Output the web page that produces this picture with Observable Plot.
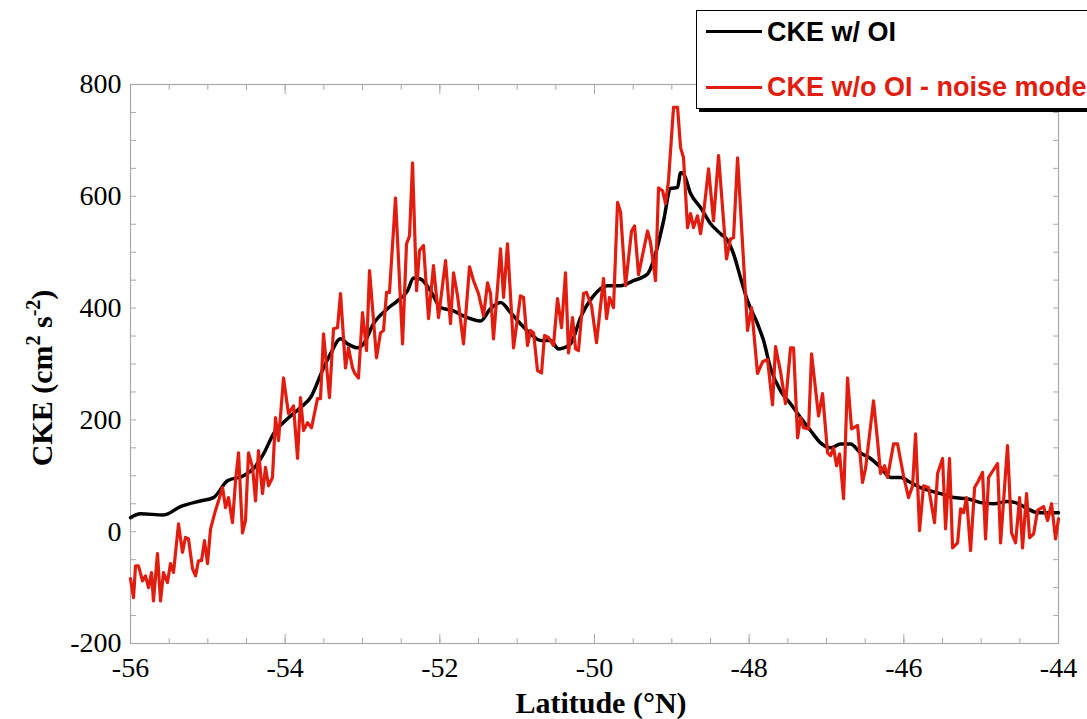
<!DOCTYPE html>
<html>
<head>
<meta charset="utf-8">
<script src="https://cdn.jsdelivr.net/npm/d3@7"></script>
<script src="https://cdn.jsdelivr.net/npm/@observablehq/plot@0.6"></script>
<style>
  html, body { margin: 0; padding: 0; background: #fff; overflow: hidden; }
  #wrap { position: relative; width: 1087px; height: 719px; overflow: hidden; }
  #legend { position: absolute; left: 696px; top: 10px; width: 520px; height: 97px;
            border: 1.5px solid #000; box-shadow: 3px 3px 0 #000; background: #fff; }
  .lg-line { position: absolute; height: 3px; }
  .lg-text { position: absolute; font-family: "Liberation Sans", Arial, sans-serif; font-weight: bold;
             font-size: 27px; white-space: nowrap; line-height: 1; }
</style>
</head>
<body>
<div id="wrap"></div>
<script>
// ---- Data ----
const latOI = [-56.000,-55.871,-55.573,-55.353,-55.095,-54.927,-54.746,-54.539,-54.409,-54.280,-54.151,-53.970,-53.802,-53.672,-53.504,-53.414,-53.284,-53.194,-53.064,-52.987,-52.858,-52.676,-52.547,-52.418,-52.340,-52.250,-52.120,-51.991,-51.823,-51.694,-51.474,-51.344,-51.215,-51.086,-50.957,-50.827,-50.698,-50.569,-50.465,-50.310,-50.181,-50.013,-49.831,-49.663,-49.495,-49.314,-49.237,-49.107,-49.017,-48.926,-48.887,-48.849,-48.758,-48.629,-48.499,-48.370,-48.280,-48.202,-48.111,-48.021,-47.892,-47.814,-47.724,-47.594,-47.465,-47.336,-47.206,-47.077,-46.948,-46.818,-46.689,-46.560,-46.430,-46.301,-46.172,-46.042,-45.913,-45.784,-45.654,-45.525,-45.357,-45.176,-45.008,-44.840,-44.659,-44.555,-44.400,-44.271,-44.141,-44.000];
const ckeOI = [25,32,30,45,55,61,91,100,113,139,175,202,222,240,293,318,345,336,329,336,372,399,413,431,454,452,431,401,395,386,377,399,410,392,372,354,342,342,327,336,383,422,440,440,449,461,485,556,614,616,642,640,605,580,551,533,521,497,454,413,372,342,293,252,229,204,181,159,150,157,157,141,131,115,97,97,88,79,73,68,61,59,52,50,54,52,41,34,34,34];

const latNoise = [-56.000,-55.961,-55.935,-55.897,-55.845,-55.806,-55.767,-55.728,-55.703,-55.651,-55.612,-55.573,-55.522,-55.483,-55.444,-55.379,-55.328,-55.289,-55.250,-55.198,-55.159,-55.121,-55.082,-55.043,-55.004,-54.965,-54.901,-54.862,-54.810,-54.771,-54.733,-54.681,-54.642,-54.603,-54.552,-54.513,-54.474,-54.422,-54.383,-54.345,-54.293,-54.254,-54.215,-54.164,-54.125,-54.086,-54.021,-53.957,-53.892,-53.840,-53.802,-53.763,-53.711,-53.659,-53.582,-53.543,-53.504,-53.427,-53.375,-53.323,-53.284,-53.220,-53.181,-53.129,-53.103,-53.052,-53.000,-52.948,-52.909,-52.819,-52.767,-52.728,-52.689,-52.651,-52.573,-52.482,-52.431,-52.392,-52.353,-52.301,-52.263,-52.211,-52.146,-52.082,-52.017,-51.926,-51.862,-51.823,-51.771,-51.694,-51.616,-51.564,-51.500,-51.435,-51.383,-51.344,-51.306,-51.215,-51.176,-51.125,-51.047,-50.957,-50.918,-50.866,-50.827,-50.788,-50.737,-50.685,-50.646,-50.594,-50.530,-50.478,-50.426,-50.375,-50.336,-50.284,-50.245,-50.207,-50.142,-50.103,-50.038,-49.974,-49.883,-49.844,-49.806,-49.754,-49.702,-49.663,-49.599,-49.521,-49.482,-49.431,-49.314,-49.275,-49.211,-49.172,-49.120,-49.081,-49.043,-48.978,-48.926,-48.887,-48.849,-48.797,-48.758,-48.719,-48.668,-48.629,-48.590,-48.525,-48.461,-48.396,-48.331,-48.293,-48.241,-48.202,-48.150,-48.021,-47.969,-47.892,-47.827,-47.762,-47.698,-47.659,-47.594,-47.530,-47.465,-47.426,-47.374,-47.336,-47.297,-47.232,-47.193,-47.103,-47.051,-46.986,-46.948,-46.909,-46.870,-46.831,-46.779,-46.728,-46.676,-46.598,-46.534,-46.495,-46.392,-46.340,-46.301,-46.249,-46.211,-46.133,-46.081,-46.004,-45.939,-45.887,-45.848,-45.797,-45.745,-45.680,-45.603,-45.564,-45.499,-45.460,-45.409,-45.370,-45.305,-45.266,-45.228,-45.189,-45.137,-45.085,-45.047,-44.982,-44.943,-44.904,-44.788,-44.749,-44.659,-44.607,-44.555,-44.503,-44.465,-44.413,-44.374,-44.322,-44.271,-44.193,-44.141,-44.090,-44.038,-44.000];
const ckeNoise = [-84,-118,-61,-61,-88,-79,-100,-73,-124,-39,-124,-73,-91,-57,-73,14,-37,-10,-13,-66,-79,-52,-52,-16,-57,5,38,55,79,43,61,16,91,141,-2,20,141,115,55,145,68,115,82,97,204,163,275,211,225,131,240,181,195,186,238,238,354,240,363,365,426,293,329,293,284,275,392,324,467,311,356,360,428,428,597,336,515,529,660,431,503,512,381,476,383,485,372,463,422,336,474,449,426,386,445,426,345,506,419,515,329,422,419,333,360,356,288,284,351,347,333,417,365,463,320,383,327,324,426,428,404,338,453,381,419,401,589,572,440,538,547,460,538,517,449,615,610,587,628,759,759,687,669,544,569,544,565,533,569,649,556,673,556,488,524,526,669,360,401,283,304,308,227,331,286,229,329,329,168,204,186,184,318,207,247,141,136,150,118,139,59,275,184,190,88,113,234,163,104,118,97,157,157,100,61,82,175,2,82,79,16,104,131,5,131,-29,-20,41,34,61,-34,79,88,106,-13,97,122,-20,154,-2,-20,61,-29,68,-11,-4,38,45,20,50,-13,23];

const xMajor = [-56,-54,-52,-50,-48,-46,-44];
const xMinor = [-56,-55.5,-55,-54.5,-54,-53.5,-53,-52.5,-52,-51.5,-51,-50.5,-50,-49.5,-49,-48.5,-48,-47.5,-47,-46.5,-46,-45.5,-45,-44.5,-44];
const yMajor = [-200,0,200,400,600,800];
const yMinor = [-200,-150,-100,-50,0,50,100,150,200,250,300,350,400,450,500,550,600,650,700,750,800];

const seriesNames = ["CKE w/ OI", "CKE w/o OI - noise model"];
const seriesColors = ["#000000", "#e11d0f"];

const oiData = latOI.map((lat, i) => ({lat, cke: ckeOI[i]}));
const noiseData = latNoise.map((lat, i) => ({lat, cke: ckeNoise[i]}));

const serif = "'Liberation Serif', 'Times New Roman', Times, serif";
const frameGray = "#a9a9a9";
const chart = Plot.plot({
  width: 1087,
  height: 719,
  marginLeft: 130,
  marginRight: 29,
  marginTop: 84,
  marginBottom: 76,
  style: {fontFamily: serif, fontSize: "28px", color: "#000", background: "#fff", overflow: "visible"},
  x: {domain: [-56, -44]},
  y: {domain: [-200, 800]},
  marks: [
    Plot.frame({stroke: frameGray, strokeWidth: 1.2}),
    // ticks (inside the frame)
    Plot.axisX(xMinor, {anchor: "bottom", tickSize: -5, tickFormat: () => "", stroke: frameGray, label: null}),
    Plot.axisX(xMinor, {anchor: "top", tickSize: -5, tickFormat: () => "", stroke: frameGray, label: null}),
    Plot.axisX(xMajor, {anchor: "bottom", tickSize: -9, tickFormat: () => "", stroke: frameGray, label: null}),
    Plot.axisX(xMajor, {anchor: "top", tickSize: -9, tickFormat: () => "", stroke: frameGray, label: null}),
    Plot.axisY(yMinor, {anchor: "left", tickSize: -6, tickFormat: () => "", stroke: frameGray, label: null}),
    Plot.axisY(yMinor, {anchor: "right", tickSize: -6, tickFormat: () => "", stroke: frameGray, label: null}),
    // tick labels
    Plot.axisX(xMajor, {anchor: "bottom", tickSize: 0, tickPadding: 14, tickFormat: d => String(d), label: null, fontSize: 28, fontFamily: serif}),
    Plot.axisY(yMajor, {anchor: "left", tickSize: 0, tickPadding: 9, tickFormat: d => String(d), label: null, fontSize: 28, fontFamily: serif}),
    // data
    Plot.line(oiData, {x: "lat", y: "cke", stroke: seriesColors[0], strokeWidth: 3.5, strokeLinejoin: "round", curve: "monotone-x"}),
    Plot.line(noiseData, {x: "lat", y: "cke", stroke: seriesColors[1], strokeWidth: 3.2, strokeLinejoin: "round"})
  ]
});

const wrap = document.getElementById("wrap");
wrap.appendChild(chart);

const svg = d3.select(chart);
// force serif on tick labels
svg.selectAll("text").attr("font-family", serif).style("font-family", serif);

// Axis titles (with superscripts)
svg.append("text")
  .attr("x", 601).attr("y", 713)
  .attr("text-anchor", "middle")
  .style("font-family", serif)
  .attr("font-weight", "bold").attr("font-size", 30).attr("fill", "#000")
  .text("Latitude (°N)");

const yt = svg.append("text")
  .attr("transform", "translate(52,378) rotate(-90)")
  .attr("text-anchor", "middle")
  .style("font-family", serif)
  .attr("font-weight", "bold").attr("font-size", 30).attr("fill", "#000");
yt.append("tspan").text("CKE (cm");
yt.append("tspan").attr("dy", -12).attr("font-size", 20).text("2");
yt.append("tspan").attr("dy", 12).text(" s");
yt.append("tspan").attr("dy", -12).attr("font-size", 20).text("-2");
yt.append("tspan").attr("dy", 12).text(")");

// Legend
const lg = document.createElement("div");
lg.id = "legend";
wrap.appendChild(lg);
const rows = [{y: 31, ty: 19}, {y: 87, ty: 74}];
seriesNames.forEach((name, i) => {
  const ln = document.createElement("div");
  ln.className = "lg-line";
  ln.style.left = "706px"; ln.style.width = "56px";
  ln.style.top = (rows[i].y - 1) + "px";
  ln.style.background = seriesColors[i];
  wrap.appendChild(ln);
  const t = document.createElement("div");
  t.className = "lg-text";
  t.style.left = "767px";
  t.style.top = rows[i].ty + "px";
  t.style.color = seriesColors[i];
  t.textContent = name;
  wrap.appendChild(t);
});
</script>
</body>
</html>
